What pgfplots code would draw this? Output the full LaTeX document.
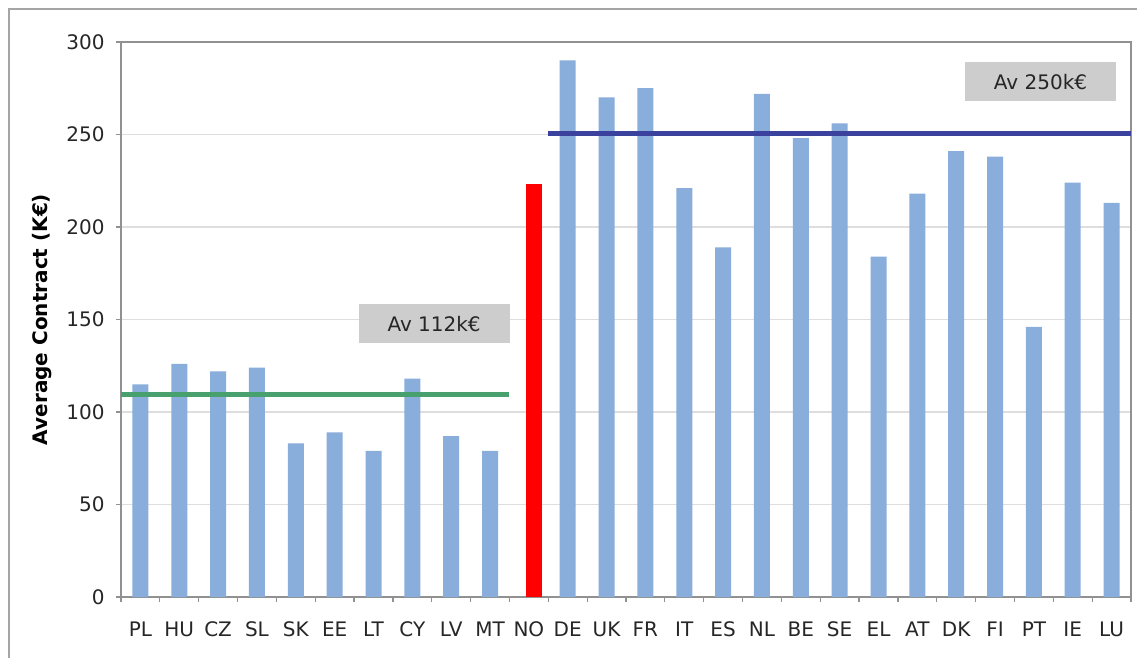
\documentclass[border=0pt]{standalone}
\usepackage{pgfplots}
\pgfplotsset{compat=1.18}
\usepackage{fontspec}
\setmainfont{DejaVu Sans}
\definecolor{barblue}{RGB}{137,174,220}
\definecolor{gridgray}{RGB}{222,222,222}
\definecolor{axgray}{RGB}{145,145,145}
\definecolor{framegray}{RGB}{165,165,165}
\definecolor{avgreen}{RGB}{72,160,110}
\definecolor{avblue}{RGB}{58,66,158}
\definecolor{boxgray}{RGB}{205,205,205}
\begin{document}
\begin{tikzpicture}
\begin{axis}[
  at={(0pt,0pt)}, anchor=south west,
  scale only axis, width=757.5pt, height=416.25pt,
  xmin=-0.5, xmax=25.5, ymin=0, ymax=300,
  axis line style={axgray, line width=0.9pt},
  xtick={0,...,25},
  xticklabels={PL,HU,CZ,SL,SK,EE,LT,CY,LV,MT,NO,DE,UK,FR,IT,ES,NL,BE,SE,EL,AT,DK,FI,PT,IE,LU},
  major x tick style={draw=none},
  minor xtick={-0.5,0.5,...,25.5},
  minor x tick style={axgray, line width=0.9pt},
  minor tick length=3.75pt,
  ytick={0,50,...,300},
  major y tick style={axgray, line width=0.9pt},
  major tick length=3.75pt,
  tick align=outside,
  tick pos=left,
  ymajorgrids,
  grid style={gridgray, line width=0.8pt},
  /pgf/number format/assume math mode=true,
  tick label style={font=\fontsize{15}{17}\selectfont, text=black!85},
  xticklabel style={anchor=base, yshift=-26pt},
  yticklabel style={xshift=-5pt},
  ylabel={Average Contract (K€)},
  ylabel style={font=\fontsize{15}{17}\selectfont\bfseries, at={(axis description cs:0,0.5)}, anchor=center, yshift=59pt},
]
\addplot[ybar, bar width=12pt, bar shift=0pt, fill=barblue, draw=none] coordinates {
 (0,115) (1,126) (2,122) (3,124) (4,83) (5,89) (6,79) (7,118) (8,87) (9,79)
 (11,290) (12,270) (13,275) (14,221) (15,189) (16,272) (17,248) (18,256)
 (19,184) (20,218) (21,241) (22,238) (23,146) (24,224) (25,213)};
\addplot[ybar, bar width=12pt, bar shift=3.5pt, fill=red, draw=none] coordinates {(10,223)};
\addplot[avgreen, line width=4pt, no marks] coordinates {(-0.5,109.5) (9.5,109.5)};
\addplot[avblue, line width=4pt, no marks] coordinates {(10.5,250.5) (25.5,250.5)};
\node[fill=boxgray, minimum width=113.25pt, minimum height=29.25pt, inner sep=0pt, font=\fontsize{15}{17}\selectfont, text=black!85] at (axis cs:7.56,147.8) {Av 112k€};
\node[fill=boxgray, minimum width=113.25pt, minimum height=29.25pt, inner sep=0pt, font=\fontsize{15}{17}\selectfont, text=black!85] at (axis cs:23.17,278.6) {Av 250k€};
\end{axis}
\draw[framegray, line width=1.1pt] (-84pt,-60pt) -- (-84pt,441pt) -- (790pt,441pt);
\pgfresetboundingbox
\path[use as bounding box] (-90.75pt,-45pt) rectangle (762pt,447.75pt);
\end{tikzpicture}
\end{document}
